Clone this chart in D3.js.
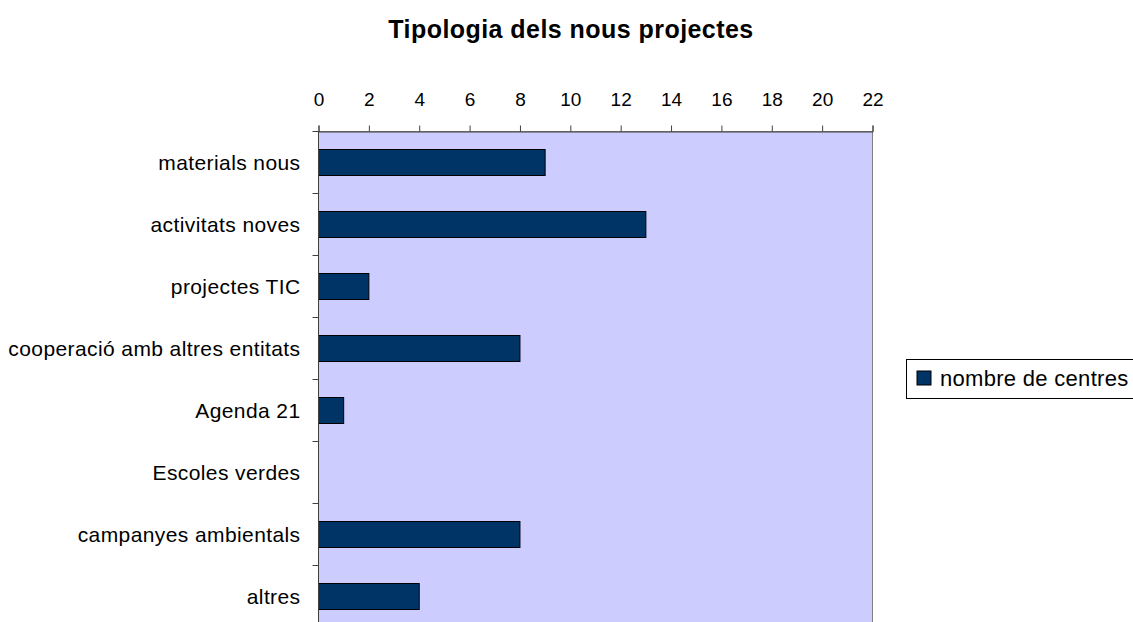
<!DOCTYPE html>
<html>
<head>
<meta charset="utf-8">
<script src="https://cdn.jsdelivr.net/npm/d3@7"></script>
<style>
  body { margin: 0; background: #fff; }
  svg { display: block; font-family: "Liberation Sans", Arial, sans-serif; }
</style>
</head>
<body>
<svg id="chart" width="1133" height="622"></svg>
<script>
const categories = ["materials nous", "activitats noves", "projectes TIC", "cooperació amb altres entitats", "Agenda 21", "Escoles verdes", "campanyes ambientals", "altres"];
const values = [9, 13, 2, 8, 1, 0, 8, 4];
const xTicks = [0, 2, 4, 6, 8, 10, 12, 14, 16, 18, 20, 22];
const seriesName = "nombre de centres";
const title = "Tipologia dels nous projectes";

const svg = d3.select("#chart");
const plot = { left: 318.5, right: 872.5, top: 131.5, bottom: 627.5 };

const x = d3.scaleLinear().domain([0, 22]).range([plot.left, plot.right]);
const y = d3.scaleBand().domain(categories).range([plot.top, plot.bottom]).padding(0);

// title
svg.append("text")
  .attr("x", 571).attr("y", 38)
  .attr("text-anchor", "middle")
  .attr("font-weight", "bold")
  .attr("font-size", 25)
  .attr("letter-spacing", 0.45)
  .text(title);

// plot background
svg.append("rect")
  .attr("x", plot.left).attr("y", plot.top)
  .attr("width", plot.right - plot.left).attr("height", plot.bottom - plot.top)
  .attr("fill", "#CCCCFF")
  .attr("stroke", "#808080").attr("stroke-width", 1);

// bars
const barH = 26;
svg.append("g").selectAll("rect")
  .data(categories.map((c, i) => ({ c, v: values[i] })).filter(d => d.v > 0))
  .join("rect")
  .attr("x", x(0))
  .attr("y", d => y(d.c) + (y.bandwidth() - barH) / 2)
  .attr("width", d => x(d.v) - x(0))
  .attr("height", barH)
  .attr("fill", "#003366")
  .attr("stroke", "#000")
  .attr("stroke-width", 1);

// top x axis
const xAxis = svg.append("g")
  .attr("transform", `translate(0,${plot.top})`)
  .call(d3.axisTop(x).tickValues(xTicks).tickSize(6).tickPadding(20).tickFormat(d3.format("d")));
xAxis.select(".domain").attr("stroke", "#404040");
xAxis.selectAll(".tick line").attr("stroke", "#404040");
xAxis.selectAll(".tick text").attr("font-size", 19).attr("fill", "#000")
  .attr("font-family", "Liberation Sans, Arial, sans-serif");

// left y axis: ticks at band boundaries
const yAxis = svg.append("g").attr("transform", `translate(${plot.left},0)`);
yAxis.append("line")
  .attr("x1", 0).attr("x2", 0).attr("y1", plot.top).attr("y2", plot.bottom)
  .attr("stroke", "#404040");
const bounds = categories.map(c => y(c)).concat([plot.bottom]);
yAxis.selectAll("line.tk").data(bounds).join("line").attr("class", "tk")
  .attr("x1", -6).attr("x2", 0)
  .attr("y1", d => d).attr("y2", d => d)
  .attr("stroke", "#404040");
yAxis.selectAll("text").data(categories).join("text")
  .attr("x", -18)
  .attr("y", d => y(d) + y.bandwidth() / 2)
  .attr("dy", "0.35em")
  .attr("text-anchor", "end")
  .attr("font-size", 21)
  .attr("letter-spacing", 0.4)
  .text(d => d);

// legend
const lg = svg.append("g");
lg.append("rect")
  .attr("x", 906.5).attr("y", 359.5).attr("width", 240).attr("height", 39)
  .attr("fill", "#fff").attr("stroke", "#000");
lg.append("rect")
  .attr("x", 917).attr("y", 371).attr("width", 14).attr("height", 14)
  .attr("fill", "#003366").attr("stroke", "#000");
lg.append("text")
  .attr("x", 940).attr("y", 378).attr("dy", "0.35em")
  .attr("font-size", 22)
  .attr("letter-spacing", 0.3)
  .text(seriesName);
</script>
</body>
</html>
